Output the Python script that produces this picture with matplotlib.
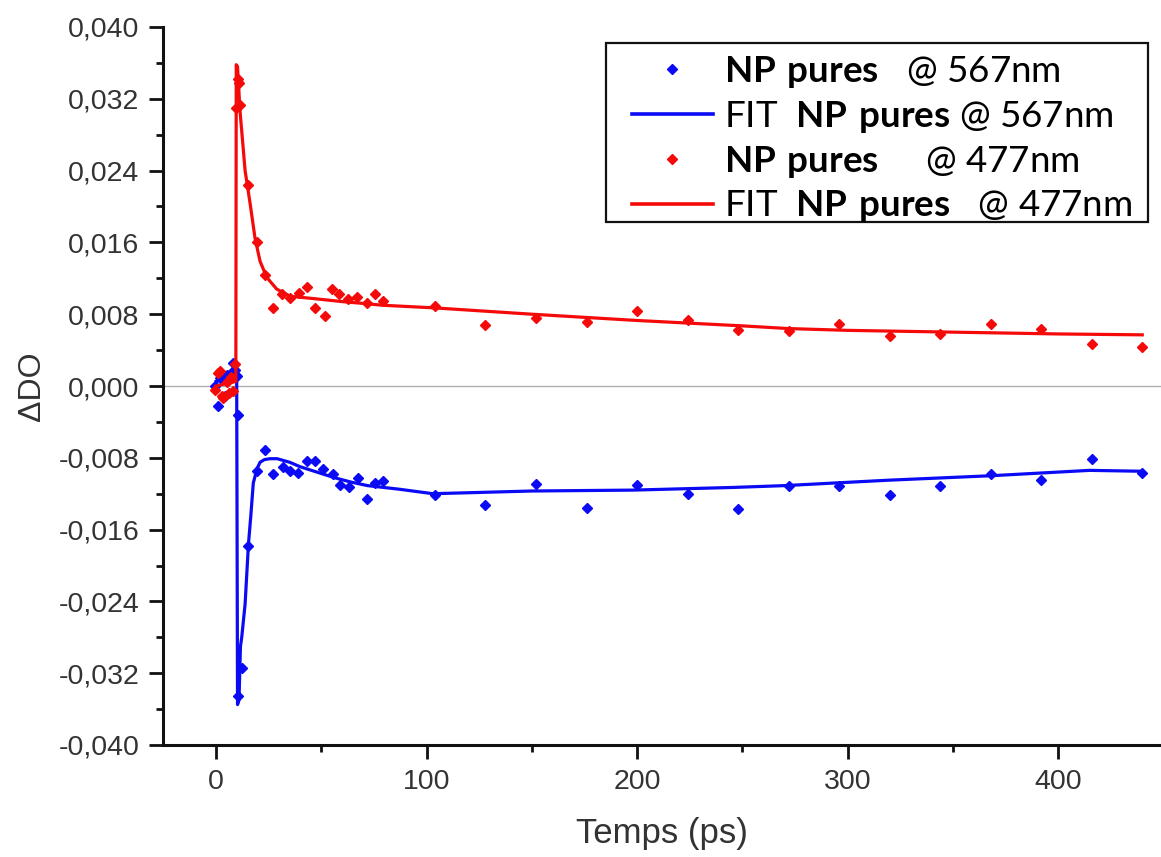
import matplotlib
matplotlib.use("Agg")
import matplotlib.pyplot as plt
from matplotlib.lines import Line2D
from matplotlib.patches import Rectangle
from matplotlib.ticker import MultipleLocator, FuncFormatter

plt.rcParams['mathtext.fontset'] = 'custom'
plt.rcParams['mathtext.rm'] = 'Lato'
plt.rcParams['mathtext.bf'] = 'Lato:bold'

# ---------------- data ----------------
t_blue = [-0.5, 1.1, 2.0, 3.0, 4.3, 5.2, 6.6, 7.4, 8.2, 9.0, 10.0, 10.4, 10.6, 12.2,
          15.4, 19.3, 23.3, 27.2, 31.7, 35.2, 39.1, 43.1, 47.0, 51.0, 55.4, 58.9, 63.3,
          67.6, 71.6, 75.5, 79.5,
          104, 128, 152, 176, 200, 224, 248, 272, 296, 320, 344, 368, 392, 416, 440]
y_blue = [0.0000, -0.0022, 0.0009, 0.0010, -0.0011, 0.0012, 0.0009, 0.0016, 0.0026, 0.0018,
          0.0011, -0.0032, -0.0345, -0.0314,
          -0.0178, -0.0095, -0.0071, -0.0098, -0.0090, -0.0095, -0.0097, -0.0084, -0.0084,
          -0.0092, -0.0098, -0.0110, -0.0113, -0.0102, -0.0126, -0.0108, -0.0106,
          -0.0122, -0.0133, -0.0109, -0.0136, -0.0110, -0.0120, -0.0137, -0.0111, -0.0111,
          -0.0121, -0.0111, -0.0098, -0.0105, -0.0081, -0.0097]

t_red = [-0.5, 1.0, 2.0, 2.7, 3.5, 5.0, 6.0, 7.0, 8.2, 9.0, 9.6, 10.2, 10.8, 11.4,
         15.4, 19.3, 23.3, 27.2, 31.2, 35.2, 39.6, 43.4, 47.0, 51.8, 55.0, 58.6, 62.9,
         67.1, 71.6, 75.5, 79.5,
         104, 128, 152, 176, 200, 224, 248, 272, 296, 320, 344, 368, 392, 416, 440]
y_red = [-0.0005, 0.0015, 0.0017, -0.0011, -0.0013, 0.0005, -0.0008, 0.0010, -0.0006, 0.0024,
         0.0310, 0.0342, 0.0338, 0.0313,
         0.0224, 0.0160, 0.0124, 0.0087, 0.0102, 0.0098, 0.0104, 0.0110, 0.0087, 0.0078,
         0.0108, 0.0103, 0.0097, 0.0099, 0.0092, 0.0102, 0.0095,
         0.0089, 0.0068, 0.0076, 0.0071, 0.0084, 0.0074, 0.0062, 0.0061, 0.0069, 0.0056,
         0.0058, 0.0069, 0.0064, 0.0047, 0.0043]

t_fit_blue = [0, 9.8, 10.2, 10.9, 11.6, 12.2, 13.8, 15.4, 16.5, 17.7, 19.5, 20.9, 23.0, 25.7,
              29.0, 35.0, 40.0, 48.0, 56.0, 64.0, 72.0, 87.0, 103, 150, 198, 246, 270, 319,
              368, 415, 440]
y_fit_blue = [0.0005, 0.0012, -0.0355, -0.0350, -0.0290, -0.0280, -0.0243, -0.0176, -0.0145,
              -0.0108, -0.0092, -0.0085, -0.0082, -0.0081, -0.0081, -0.0085, -0.0090, -0.0096,
              -0.0102, -0.0107, -0.0111, -0.0115, -0.0120, -0.0117, -0.0116, -0.0113, -0.0111,
              -0.0105, -0.0100, -0.0094, -0.0095]

t_fit_red = [0, 9.4, 9.6, 10.2, 11.4, 12.2, 13.8, 16.2, 18.5, 20.9, 24.1, 28.8, 35.2, 48,
             60, 70, 79, 104, 150, 200, 250, 272, 300, 350, 400, 440]
y_fit_red = [0.0, 0.0005, 0.0358, 0.0356, 0.0306, 0.0284, 0.0240, 0.0203, 0.0165, 0.0139,
             0.0121, 0.0108, 0.0100, 0.0097, 0.0094, 0.0092, 0.0090, 0.0087, 0.0080, 0.0073,
             0.0067, 0.0064, 0.0062, 0.0060, 0.0058, 0.0057]

labels = [r"$\mathbf{NP\ pures}$   @ 567nm",
          r"FIT  $\mathbf{NP\ pures}$ @ 567nm",
          r"$\mathbf{NP\ pures}$     @ 477nm",
          r"FIT  $\mathbf{NP\ pures}$   @ 477nm"]

x_ticks_major = [0, 100, 200, 300, 400]
y_ticks_major = [-0.040, -0.032, -0.024, -0.016, -0.008, 0.0, 0.008, 0.016, 0.024, 0.032, 0.040]

BLUE = '#0a0af5'
RED = '#f50a0a'
TXT = '#333333'

# ---------------- figure ----------------
fig = plt.figure(figsize=(11.61, 8.57), dpi=100)
ax = fig.add_axes([163 / 1161, 112 / 857, 998 / 1161, 718 / 857])

ax.axhline(0, color='#b0b0b0', lw=1.0, zorder=1)

ax.plot(t_blue, y_blue, ls='none', marker='D', ms=5.3, color=BLUE, zorder=3)
ax.plot(t_fit_blue, y_fit_blue, color=BLUE, lw=2.3, zorder=2)
ax.plot(t_red, y_red, ls='none', marker='D', ms=5.3, color=RED, zorder=4)
ax.plot(t_fit_red, y_fit_red, color=RED, lw=2.3, zorder=4)

ax.set_xlim(-25.2, 448.9)
ax.set_ylim(-0.040, 0.040)

for s in ['top', 'right']:
    ax.spines[s].set_visible(False)
for s in ['left', 'bottom']:
    ax.spines[s].set_linewidth(2.2)
    ax.spines[s].set_color('#111111')

ax.set_xticks(x_ticks_major)
ax.xaxis.set_minor_locator(MultipleLocator(50))
ax.set_yticks(y_ticks_major)
ax.yaxis.set_minor_locator(MultipleLocator(0.004))
ax.yaxis.set_major_formatter(FuncFormatter(lambda v, p: f"{v:.3f}".replace('.', ',').replace('-0,000', '0,000')))

ax.tick_params(which='major', direction='out', length=10, width=2.0, color='#111111',
               labelsize=20.5, labelcolor=TXT, pad=7)
ax.tick_params(which='minor', direction='out', length=5, width=2.0, color='#111111')
for lab in ax.get_xticklabels() + ax.get_yticklabels():
    lab.set_family(['Liberation Sans', 'DejaVu Sans'])

ax.set_xlabel('Temps (ps)', fontsize=25, color=TXT, family=['Liberation Sans', 'DejaVu Sans'],
              labelpad=16)
ax.set_ylabel('ΔDO', fontsize=23, color=TXT, family=['Liberation Sans', 'DejaVu Sans'],
              labelpad=8)

handles = [
    Line2D([], [], ls='none', marker='D', ms=5, color=BLUE),
    Line2D([], [], color=BLUE, lw=2.6),
    Line2D([], [], ls='none', marker='D', ms=5, color=RED),
    Line2D([], [], color=RED, lw=2.6),
]
leg = ax.legend(handles, labels, loc='upper right', bbox_to_anchor=(1132 / 1161, 1 - 54 / 857),
                bbox_transform=fig.transFigure, prop={'family': 'Lato', 'size': 26.5},
                frameon=False, handlelength=2.2, handletextpad=0.3, labelspacing=0.24,
                borderpad=0, borderaxespad=0)
leg.set_zorder(10)

# legend frame
frame = Rectangle((606 / 1161, 1 - 222 / 857), (1148 - 606) / 1161, (222 - 43) / 857,
                  transform=fig.transFigure, facecolor='white', edgecolor='#111111',
                  lw=1.6, zorder=9, clip_on=False)
ax.add_artist(frame)

fig.savefig('out.png', dpi=100)
